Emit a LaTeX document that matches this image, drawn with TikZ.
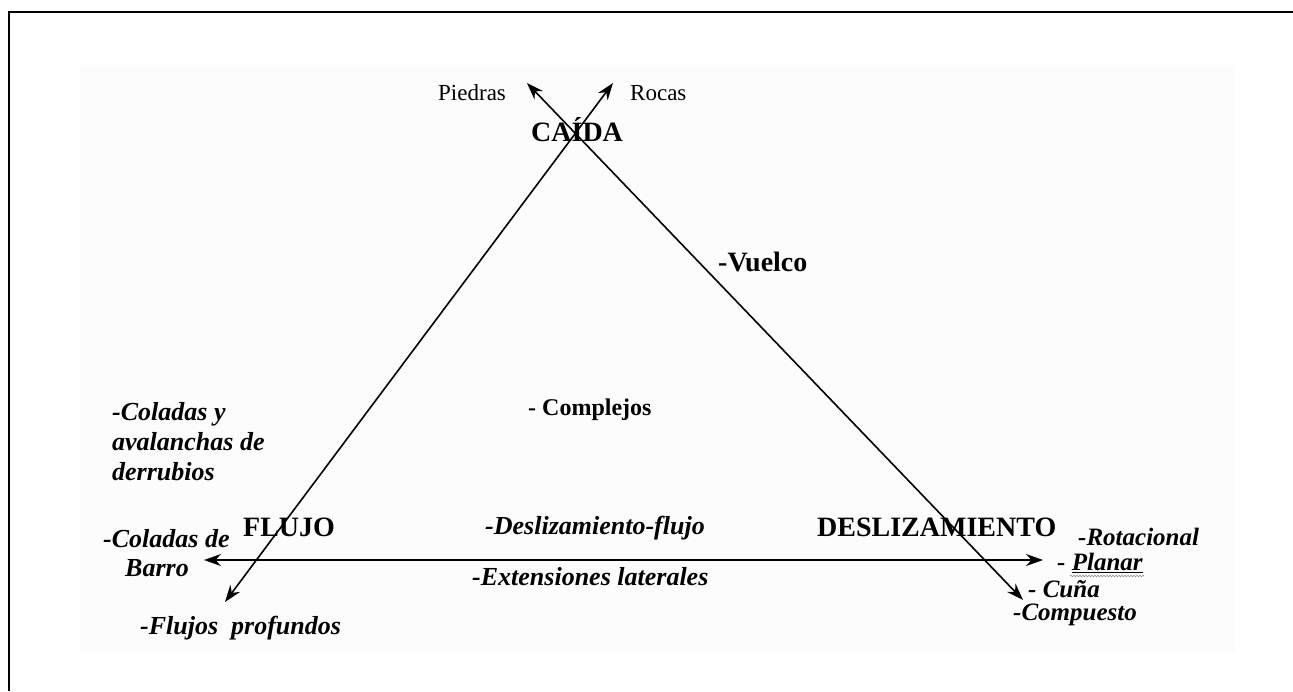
\documentclass[tikz,border=0pt]{standalone}
\usepackage{fontspec}
\setmainfont{Liberation Serif}
\usetikzlibrary{arrows.meta,decorations.pathmorphing}
\begin{document}
\begin{tikzpicture}[x=1pt,y=-1pt,
  lbl/.style={inner sep=0pt, anchor=west},
  bi/.style={lbl, font=\fontsize{26}{30}\selectfont\bfseries\itshape},
  bis/.style={lbl, font=\fontsize{25}{28}\selectfont\bfseries\itshape},
  bcap/.style={lbl, font=\fontsize{28}{30}\selectfont\bfseries},
  bup/.style={lbl, font=\fontsize{28}{30}\selectfont\bfseries},
  reg/.style={lbl, font=\fontsize{23}{28}\selectfont},
  dbl/.style={line width=1.6pt, {Stealth[length=17pt,width=12pt]}-{Stealth[length=17pt,width=12pt]}}]
\useasboundingbox (0,0) rectangle (1293,691);
\fill[black!1] (80,65) rectangle (1235,652);
\draw[line width=2.5pt] (9,691) -- (9,12) -- (1293,12);
% arrow end points
\coordinate (rocas) at (613,83);
\coordinate (flujoend) at (225,602);
\coordinate (piedras) at (527,83);
\coordinate (cuna) at (1023,600);
\coordinate (barro) at (204,560);
\coordinate (planar) at (1043,560);
\draw[dbl] (flujoend) -- (rocas);
\draw[dbl] (piedras) -- (cuna);
\draw[dbl] (barro) -- (planar);
% labels
\node[reg] (tp) at (438,93) {Piedras};
\node[reg] (tr) at (630,93) {Rocas};
\node[bcap] (tc) at (531,130) {CAÍDA};
\node[bup] (tv) at (718,262) {-Vuelco};
\node[lbl, font=\fontsize{24}{28}\selectfont\bfseries] (tcx) at (528,410) {- Complejos};
\node[bi, align=left] (tcol) at (112,442) {-Coladas y\\avalanchas de\\derrubios};
\node[bcap] (tf) at (243,527) {FLUJO};
\node[bcap] (td) at (817,527) {DESLIZAMIENTO};
\node[bi] (tdf) at (485,528) {-Deslizamiento-flujo};
\node[bi] (tex) at (472,577) {-Extensiones laterales};
\node[bi] (tcb) at (103,539) {-Coladas de};
\node[bi] (tb) at (125,568) {Barro};
\node[bi] (tfp) at (140,628) {-Flujos\ \ profundos};
\node[bis] (trot) at (1078,537) {-Rotacional};
\node[bis] (tpl) at (1057,563) {- \underline{Planar}};
\node[bis] (tcu) at (1028,589) {- Cuña};
\node[bis] (tco) at (1013,615) {-Compuesto};
\draw[black!45, line width=0.6pt, decorate, decoration={snake, amplitude=0.8pt, segment length=3pt}] (1070,576) -- (1144,576);
\end{tikzpicture}
\end{document}
